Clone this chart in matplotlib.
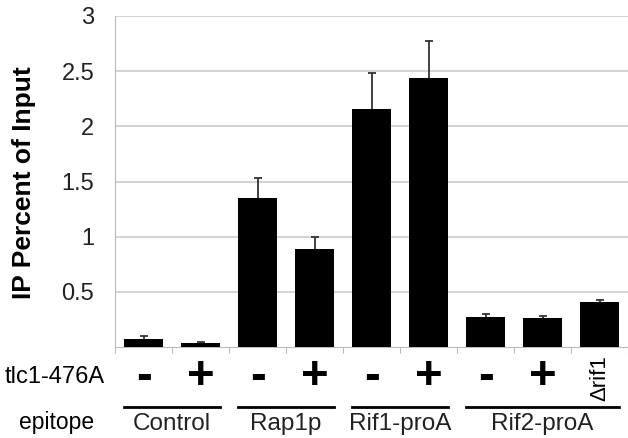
import matplotlib.pyplot as plt
from matplotlib.lines import Line2D

plt.rcParams['font.family'] = ['Liberation Sans', 'DejaVu Sans']

# data
signs = ["-", "+", "-", "+", "-", "+", "-", "+", "\u0394rif1"]
values = [0.07, 0.035, 1.35, 0.89, 2.16, 2.44, 0.27, 0.26, 0.41]
errors = [0.03, 0.01, 0.18, 0.11, 0.32, 0.33, 0.03, 0.02, 0.02]
groups = ["Control", "Rap1p", "Rif1-proA", "Rif2-proA"]
group_spans = [(0, 1), (2, 3), (4, 5), (6, 8)]
yticks = [0.5, 1, 1.5, 2, 2.5, 3]

fig = plt.figure(figsize=(6.28, 4.38), dpi=100)
ax = fig.add_axes([115 / 628, 91 / 438, 513 / 628, 331 / 438])

x = list(range(len(values)))
ax.bar(x, values, width=0.68, color="black", zorder=3)
# symmetric bars drawn under the columns so only the upper half shows
ax.errorbar(x, values, yerr=errors, fmt="none",
            ecolor="#333333", elinewidth=1.3, capsize=3, capthick=1.3, zorder=2)

ax.set_ylim(0, 3)
ax.set_xlim(-0.5, 8.45)
ax.set_yticks(yticks)
ax.set_yticklabels([("%g" % t) for t in yticks], fontsize=17, color="#222222")
ax.tick_params(axis="y", length=0, pad=15)
ax.set_xticks([i + 0.5 for i in range(-1, 9)])
ax.set_xticklabels([])
ax.tick_params(axis="x", length=4, color="#bbbbbb", direction="out")
ax.grid(axis="y", color="#cccccc", linewidth=1.2, zorder=0)
for s in ["top", "right"]:
    ax.spines[s].set_visible(False)
ax.spines["left"].set_color("#bbbbbb")
ax.spines["bottom"].set_color("#bbbbbb")

tr = ax.get_xaxis_transform()
for i, s in enumerate(signs):
    if s in ("-", "+"):
        ax.text(i, -0.09, s, transform=tr, ha="center", va="center",
                fontsize=34, fontweight="bold")
    else:
        ax.text(i, -0.093, s, transform=tr, ha="center", va="center",
                fontsize=16, rotation=90)

for name, (a, b) in zip(groups, group_spans):
    ax.add_line(Line2D([a - 0.35, b + 0.35], [-0.181, -0.181], transform=tr,
                       color="black", linewidth=2, clip_on=False))
    ax.text((a + b) / 2, -0.232, name, transform=tr, ha="center", va="center",
            fontsize=17.5, color="#222222")

fig.text(5 / 628, 1 - 377 / 438, "tlc1-476A", ha="left", va="center", fontsize=17)
fig.text(57 / 628, 1 - 423 / 438, "epitope", ha="center", va="center", fontsize=16.5)
fig.text(24 / 628, 1 - 183 / 438, "IP Percent of Input", rotation=90,
         ha="center", va="center", fontsize=19, fontweight="bold")

fig.savefig("out.png", dpi=100)
